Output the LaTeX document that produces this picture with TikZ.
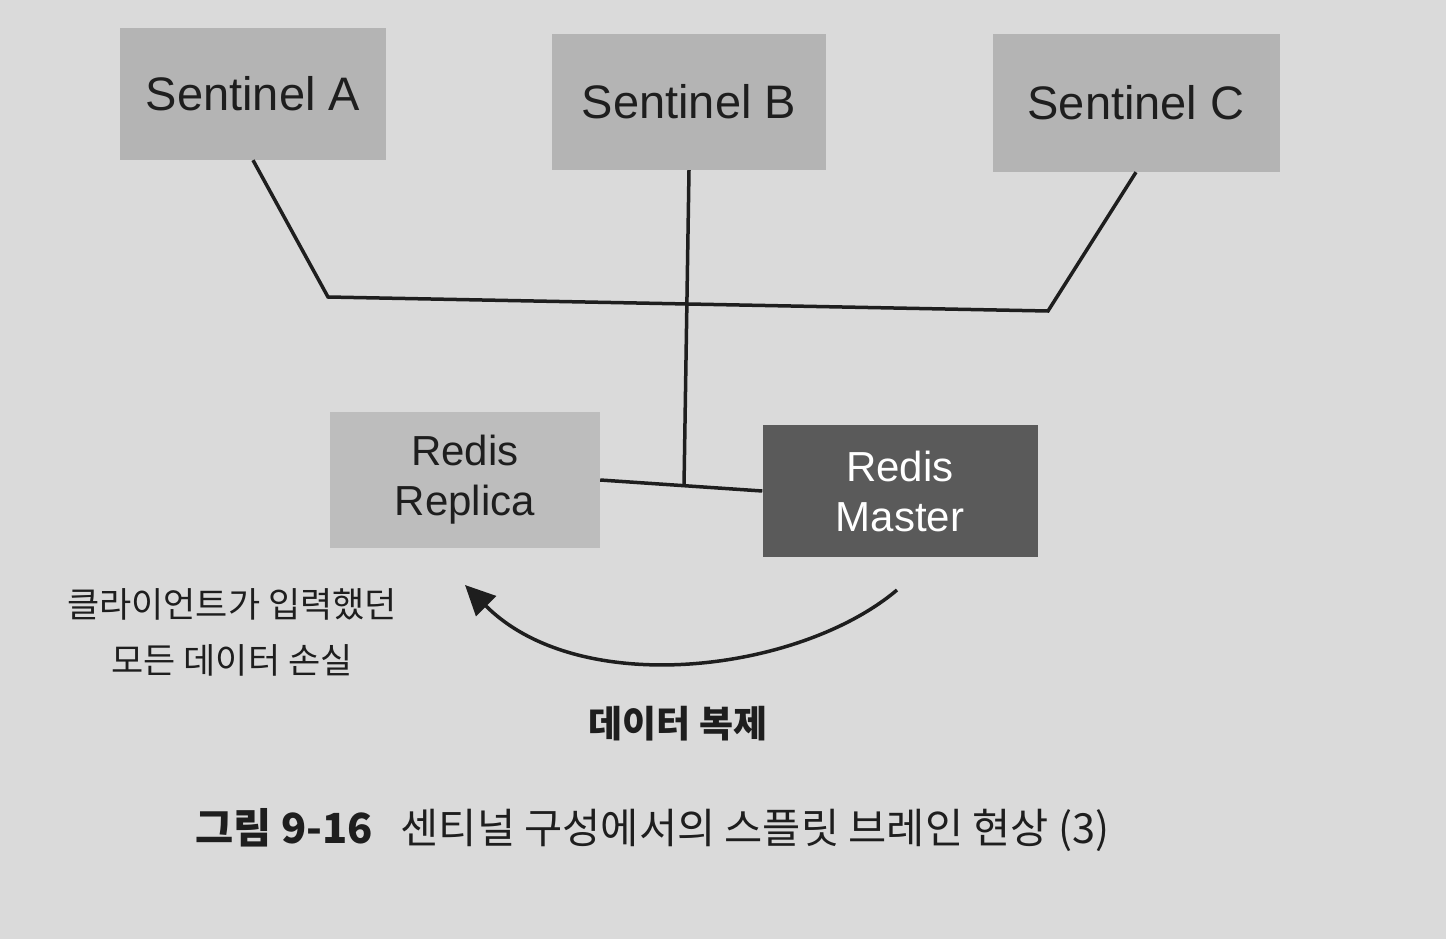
\documentclass[tikz,border=0pt]{standalone}
\usepackage{fontspec}
\setmainfont{Liberation Sans}
\newfontfamily\kr{Noto Sans CJK KR}
\usetikzlibrary{arrows.meta}
\definecolor{bg}{HTML}{DADADA}
\definecolor{sent}{HTML}{B4B4B4}
\definecolor{repl}{HTML}{BDBDBD}
\definecolor{mast}{HTML}{5A5A5A}
\definecolor{ink}{HTML}{1E1E1E}
\tikzset{
  box/.style={inner sep=0pt, align=center, text=ink},
  link/.style={draw=ink, line width=3.5pt},
  lbl/.style={inner sep=0pt, align=center, text=ink},
}
\begin{document}
\begin{tikzpicture}[x=1pt,y=-1pt]
\fill[bg] (0,0) rectangle (1446,939);
\useasboundingbox (0,0) rectangle (1446,939);
% sentinels
\node[box, fill=sent, minimum width=266pt, minimum height=132pt, font=\fontsize{47}{52}\selectfont] (A) at (253,94) {Sentinel A};
\node[box, fill=sent, minimum width=274pt, minimum height=136pt, font=\fontsize{47}{52}\selectfont] (B) at (689,102) {Sentinel B};
\node[box, fill=sent, minimum width=287pt, minimum height=138pt, font=\fontsize{47}{52}\selectfont] (C) at (1136,103) {Sentinel C};
% redis
\node[box, fill=repl, minimum width=270pt, minimum height=136pt, font=\fontsize{42}{50}\selectfont] (R) at (465,480) {Redis\\Replica};
\node[box, fill=mast, text=white, minimum width=275pt, minimum height=132pt, font=\fontsize{42}{50}\selectfont] (M) at (900,491) {Redis\\Master};
% bus
\coordinate (jl) at (328,297);
\coordinate (jr) at (1048,311);
\coordinate (mid) at (684,486);
\draw[link] (A.south) -- (jl) -- (jr) -- (C.south);
\draw[link] (B.south) -- (mid);
\draw[link] (R.east) -- (M.west);
% replication arrow
\coordinate (as) at (897,590);
\coordinate (ae) at (465,585);
\draw[link, -{Triangle[length=30pt,width=28pt]}] (as) .. controls (800,672) and (580,700) .. (ae);
% labels
\node[lbl, font=\kr\fontsize{35}{56}\selectfont] (loss) at (232,632) {클라이언트가 입력했던\\모든 데이터 손실};
\node[lbl, font=\kr\bfseries\fontsize{37}{40}\selectfont] (rep) at (678,724) {데이터 복제};
\node[lbl, anchor=west, font=\kr\fontsize{41.5}{46}\selectfont] (cap) at (195,830) {{\bfseries 그림 9-16}\hspace{28pt}센티널 구성에서의 스플릿 브레인 현상 (3)};
\end{tikzpicture}
\end{document}
